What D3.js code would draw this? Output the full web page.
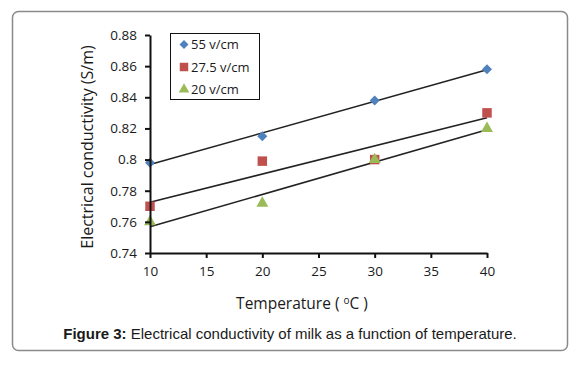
<!DOCTYPE html>
<html>
<head>
<meta charset="utf-8">
<script src="https://cdn.jsdelivr.net/npm/d3@7"></script>
<style>
  body { margin: 0; background: #fff; }
  svg { display: block; }
</style>
</head>
<body>
<svg id="chart" width="579" height="368"></svg>
<script>
// data
const temps = [10, 20, 30, 40];
const v55 = [0.798, 0.815, 0.838, 0.858];
const v275 = [0.770, 0.799, 0.800, 0.830];
const v20 = [0.760, 0.772, 0.800, 0.820];
const seriesNames = ['55 v/cm', '27.5 v/cm', '20 v/cm'];
const xTicks = [10, 15, 20, 25, 30, 35, 40];
const yTicks = [0.74, 0.76, 0.78, 0.8, 0.82, 0.84, 0.86, 0.88];

// diamond = square turned 45deg
const diamond = {
    draw(ctx, size) {
        const r = Math.sqrt(size / 2);
        ctx.moveTo(0, -r); ctx.lineTo(r, 0); ctx.lineTo(0, r); ctx.lineTo(-r, 0); ctx.closePath();
    }
};

const series = [
    { name: seriesNames[0], values: v55, color: '#4f81bd', symbol: diamond, size: 50 },
    { name: seriesNames[1], values: v275, color: '#c0504d', symbol: d3.symbolSquare, size: 90 },
    { name: seriesNames[2], values: v20, color: '#9bbb59', symbol: d3.symbolTriangle, size: 62 }
];

const svg = d3.select('#chart');
const font = '"Open Sans", "DejaVu Sans", sans-serif';

// frame
svg.append('rect')
    .attr('x', 12.5).attr('y', 11.5).attr('width', 555).attr('height', 339)
    .attr('rx', 6).attr('fill', '#fff').attr('stroke', '#8a8a8a').attr('stroke-width', 1.5);

const x = d3.scaleLinear().domain([10, 40]).range([150, 487]);
const y = d3.scaleLinear().domain([0.74, 0.88]).range([253, 35]);

// trend lines (least squares fit of each series)
function fit(xs, ys) {
    const mx = d3.mean(xs), my = d3.mean(ys);
    const b = d3.sum(xs, (v, i) => (v - mx) * (ys[i] - my)) / d3.sum(xs, v => (v - mx) ** 2);
    return [my - b * mx, b];
}

series.forEach(s => {
    const [a, b] = fit(temps, s.values);
    const ends = [temps[0], temps[temps.length - 1]];
    svg.append('line')
        .attr('x1', x(ends[0])).attr('y1', y(a + b * ends[0]))
        .attr('x2', x(ends[1])).attr('y2', y(a + b * ends[1]))
        .attr('stroke', '#222').attr('stroke-width', 1.5);
});

// markers
series.forEach(s => {
    svg.append('g').selectAll('path')
        .data(s.values)
        .enter().append('path')
        .attr('transform', (d, i) => `translate(${x(temps[i])},${y(d)})`)
        .attr('d', d3.symbol().type(s.symbol).size(s.size))
        .attr('fill', s.color);
});

// axes
const xAxis = svg.append('g').attr('transform', `translate(0,${y(0.74)})`)
    .call(d3.axisBottom(x).tickValues(xTicks).tickSize(5).tickSizeOuter(0).tickFormat(d3.format('d')));
const yAxis = svg.append('g').attr('transform', `translate(${x(10)},0)`)
    .call(d3.axisLeft(y).tickValues(yTicks).tickSize(5).tickSizeOuter(0).tickFormat(d => String(+d.toFixed(2))));

[xAxis, yAxis].forEach(g => {
    g.selectAll('.domain, line').attr('stroke', '#111').attr('stroke-width', 2);
    g.selectAll('text').attr('fill', '#1a1a1a').style('font-family', font).style('font-size', '13.5px');
});
xAxis.selectAll('text').attr('dy', '1.1em');
yAxis.selectAll('text').attr('x', -13);

// axis titles
svg.append('text')
    .attr('transform', 'translate(93,147) rotate(-90)')
    .attr('text-anchor', 'middle')
    .style('font-family', font).style('font-size', '16px').attr('fill', '#1a1a1a')
    .text('Electrical conductivity (S/m)');

const xt = svg.append('text')
    .attr('x', 302).attr('y', 309)
    .attr('text-anchor', 'middle')
    .style('font-family', font).style('font-size', '15.5px').attr('fill', '#1a1a1a');
xt.append('tspan').text('Temperature ( ');
xt.append('tspan').attr('dy', -5).style('font-size', '10px').text('o');
xt.append('tspan').attr('dy', 5).text('C )');

// legend
const legend = svg.append('g');
legend.append('rect')
    .attr('x', 170.5).attr('y', 33.5).attr('width', 89).attr('height', 66)
    .attr('fill', '#fff').attr('stroke', '#111').attr('stroke-width', 1);
series.forEach((s, i) => {
    const cy = 44.5 + i * 22.5;
    legend.append('path')
        .attr('transform', `translate(184,${cy})`)
        .attr('d', d3.symbol().type(s.symbol).size(s.size * 0.8))
        .attr('fill', s.color);
    legend.append('text')
        .attr('x', 191).attr('y', cy).attr('dy', '0.35em')
        .style('font-family', font).style('font-size', '13px').attr('fill', '#1a1a1a')
        .text(s.name);
});

// caption
const cap = svg.append('text')
    .attr('x', 290).attr('y', 339)
    .attr('text-anchor', 'middle')
    .style('font-family', '"Liberation Sans", Arial, sans-serif').style('font-size', '15px').attr('fill', '#1a1a1a');
cap.append('tspan').attr('font-weight', 'bold').text('Figure 3:');
cap.append('tspan').text(' Electrical conductivity of milk as a function of temperature.');
</script>
</body>
</html>
